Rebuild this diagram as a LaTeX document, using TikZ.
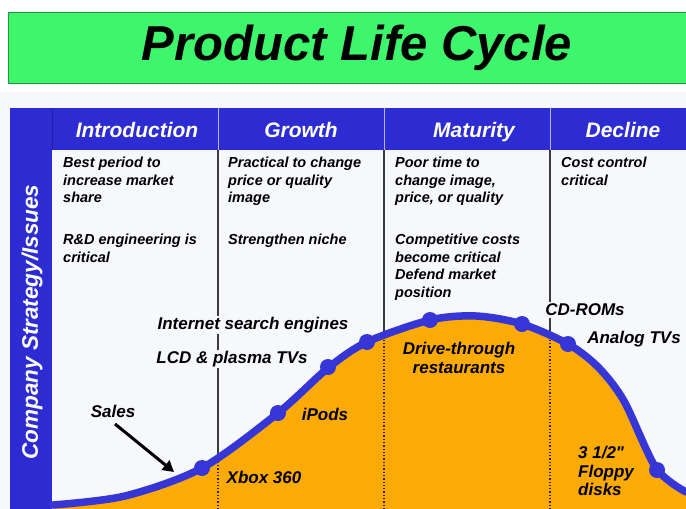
\documentclass[tikz,border=0pt]{standalone}
\usepackage{fontspec}
\setmainfont{Liberation Sans}
\usetikzlibrary{arrows.meta}
\definecolor{bg}{HTML}{F6F8FC}
\definecolor{titlegreen}{HTML}{3EF66C}
\definecolor{hdrblue}{HTML}{2C2CD2}
\definecolor{curveblue}{HTML}{3636D6}
\definecolor{fillorange}{HTML}{FCAA05}
\definecolor{divgray}{HTML}{3A3A3A}
\begin{document}
\begin{tikzpicture}[x=1pt,y=-1pt,
  body/.style={anchor=north west, align=left, inner sep=0pt,
    font=\fontsize{14.5}{17.5}\selectfont\bfseries\itshape},
  hdr/.style={text=white, inner sep=0pt, anchor=base, font=\fontsize{21}{24}\selectfont\bfseries\itshape},
  lbl/.style={inner sep=1.5pt, font=\fontsize{17}{18.5}\selectfont\bfseries\itshape},
  lblbg/.style={lbl, fill=bg},
  dot/.style={circle, fill=curveblue, minimum size=16pt, inner sep=0pt},
  divline/.style={divgray, line width=1.3pt},
  divdot/.style={black!80!fillorange, line width=1.3pt, dotted},
  hdrdiv/.style={white!65!hdrblue, line width=1pt},
  curve/.style={curveblue, line width=7.5pt, line cap=round},
]
\useasboundingbox (0,0) rectangle (686,509);
\fill[white] (0,0) rectangle (686,509);
\fill[bg] (0,92) rectangle (686,509);

% title
\node[fill=titlegreen, draw=titlegreen!60!black, line width=0.8pt,
  anchor=north west, minimum width=700pt, minimum height=71pt] (tbox) at (8,12) {};
\node[anchor=base, inner sep=0pt, font=\fontsize{49}{49}\selectfont\bfseries\itshape] (title) at (357,60) {Product Life Cycle};

% header band and left bar
\fill[hdrblue] (10,108) rectangle (686,150);
\fill[hdrblue] (10,108) rectangle (52,509);
\draw[hdrblue!75!black, line width=0.8pt] (52,108) -- (52,150);
\draw[hdrdiv] (218,108) -- (218,150);
\draw[hdrdiv] (384,108) -- (384,150);
\draw[hdrdiv] (550,108) -- (550,150);

\node[hdr] (hintro) at (137,137.5) {Introduction};
\node[hdr] (hgrowth) at (301,137.5) {Growth};
\node[hdr] (hmat) at (474,137.5) {Maturity};
\node[hdr] (hdec) at (623,137.5) {Decline};

\node[rotate=90, text=white, inner sep=0pt, font=\fontsize{22.5}{24}\selectfont\bfseries\itshape] (side) at (32,322) {Company Strategy/Issues};

% dividers
\draw[divline] (218,150) -- (218,509);
\draw[divline] (384,150) -- (384,509);
\draw[divline] (550,150) -- (550,509);

% orange area
\fill[fillorange] plot[smooth] coordinates {(53,505) (125,496) (202,468) (278,413) (328,368) (367,342) (430,320) (476,316) (522,324) (568,344) (598,367) (624,401) (656,468) (686,492)} -- (686,509) -- (53,509) -- cycle;
\begin{scope}
\clip plot[smooth] coordinates {(53,505) (125,496) (202,468) (278,413) (328,368) (367,342) (430,320) (476,316) (522,324) (568,344) (598,367) (624,401) (656,468) (686,492)} -- (686,509) -- (53,509) -- cycle;
\draw[divdot] (218,300) -- (218,509);
\draw[divdot] (384,300) -- (384,509);
\draw[divdot] (550,300) -- (550,509);
\end{scope}

% sales curve
\draw[curve] plot[smooth] coordinates {(53,505) (125,496) (202,468) (278,413) (328,368) (367,342) (430,320) (476,316) (522,324) (568,344) (598,367) (624,401) (656,468) (686,492)};
\node[dot] (d1) at (202,468) {};
\node[dot] (d2) at (278,413) {};
\node[dot] (d3) at (328,367) {};
\node[dot] (d4) at (367,342) {};
\node[dot] (d5) at (430,320) {};
\node[dot] (d6) at (522,324) {};
\node[dot] (d7) at (568,344) {};
\node[dot] (d8) at (657,470) {};

% column texts
\node[body] (t1) at (63,157) {Best period to\\increase market\\share};
\node[body] (t2) at (63,234) {R\&D engineering is\\critical};
\node[body] (t3) at (228,157) {Practical to change\\price or quality\\image};
\node[body] (t4) at (228,234) {Strengthen niche};
\node[body] (t5) at (395,157) {Poor time to\\change image,\\price, or quality};
\node[body] (t6) at (395,234) {Competitive costs\\become critical\\Defend market\\position};
\node[body] (t7) at (561,157) {Cost control\\critical};

% curve labels
\node[lblbg] (inet) at (253,325) {Internet search engines};
\node[lblbg] (lcd) at (232,359) {LCD \& plasma TVs};
\node[lbl] (sales) at (113,411) {Sales};
\node[lbl] (xbox) at (264,477) {Xbox 360};
\node[lbl] (ipods) at (325,414) {iPods};
\node[lbl, align=center] (drive) at (459,358) {Drive-through\\restaurants};
\node[lblbg] (cdrom) at (585,310) {CD-ROMs};
\node[lbl] (analog) at (634,339) {Analog TVs};
\node[lbl, align=left, anchor=north west, inner sep=0pt] (floppy) at (578,446) {3 1/2\textquotedbl\\Floppy\\disks};

\coordinate (salestip) at (174,472);
\draw[line width=3pt, -{Triangle[length=11pt,width=12pt]}] ([xshift=2pt,yshift=-5pt]sales.south) -- (salestip);
\end{tikzpicture}
\end{document}
